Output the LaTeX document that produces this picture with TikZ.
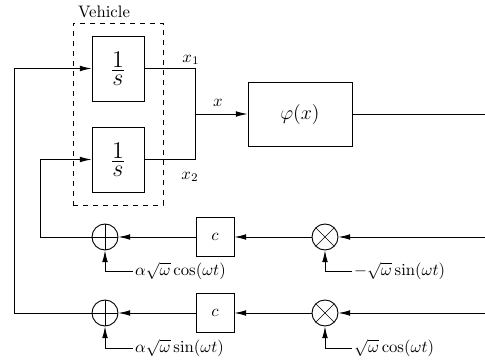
\documentclass[tikz,border=0pt]{standalone}
\usetikzlibrary{arrows.meta}
\begin{document}
\begin{tikzpicture}[x=0.6pt,y=-0.6pt,
  line width=0.55pt,
  arr/.style={-{Latex[length=7pt,width=3.4pt]}},
  blk/.style={draw,rectangle,inner sep=0pt},
  sumc/.style={circle,draw,minimum size=15.6pt,inner sep=0pt,
    path picture={\draw[line width=0.4pt] (path picture bounding box.north) -- (path picture bounding box.south)
      (path picture bounding box.west) -- (path picture bounding box.east);}},
  multc/.style={circle,draw,minimum size=15.6pt,inner sep=0pt,
    path picture={\draw[line width=0.4pt] (path picture bounding box.north west) -- (path picture bounding box.south east)
      (path picture bounding box.south west) -- (path picture bounding box.north east);}},
  lbl/.style={inner sep=1pt}]
\useasboundingbox (0,0) rectangle (485,363);
% vehicle
\node[draw,dashed,line width=0.5pt,minimum width=54pt,minimum height=109.2pt,inner sep=0pt] (veh) at (118,114) {};
\node[lbl] (vl) at (104,12) {Vehicle};
\node[blk,minimum width=31.2pt,minimum height=39pt] (v1) at (118,68.5) {\Large$\frac{\textstyle 1}{\textstyle s}$};
\node[blk,minimum width=31.2pt,minimum height=39pt] (v2) at (118,159.5) {\Large$\frac{\textstyle 1}{\textstyle s}$};
\node[blk,minimum width=62.4pt,minimum height=38.4pt] (phi) at (300,114) {\large$\varphi(x)$};
\coordinate (j) at (195,114);
\draw (v1.east) -| (j);
\draw (v2.east) -| (j);
\draw[arr] (j) -- (phi.west);
\node[lbl] (lx1) at (191,60) {$x_1$};
\node[lbl] (lx2) at (190,177) {$x_2$};
\node[lbl] (lx) at (218,103) {$x$};
\coordinate (out) at (485,114);
\draw (phi.east) -- (out);
% row 1
\coordinate (in1) at (485,237);
\node[multc] (m1) at (325,237) {};
\node[blk,minimum width=22.8pt,minimum height=23.4pt] (c1) at (215,237) {$c$};
\node[sumc] (s1) at (105,237) {};
\coordinate (k1) at (40,237);
\draw[arr] (in1) -- (m1);
\draw[arr] (m1) -- (c1);
\draw[arr] (c1) -- (s1);
\draw[arr] (s1) -- (k1) |- (v2.west);
\node[lbl,anchor=west] (a1) at (133,271) {$\alpha\sqrt{\omega}\cos(\omega t)$};
\node[lbl,anchor=west] (b1) at (352,271) {$-\sqrt{\omega}\sin(\omega t)$};
\draw[arr] (a1.west) -| (s1.south);
\draw[arr] (b1.west) -| (m1.south);
% row 2
\coordinate (in2) at (485,313);
\node[multc] (m2) at (325,313) {};
\node[blk,minimum width=22.8pt,minimum height=23.4pt] (c2) at (215,313) {$c$};
\node[sumc] (s2) at (105,313) {};
\coordinate (k2) at (14,313);
\draw[arr] (in2) -- (m2);
\draw[arr] (m2) -- (c2);
\draw[arr] (c2) -- (s2);
\draw[arr] (s2) -- (k2) |- (v1.west);
\node[lbl,anchor=west] (a2) at (133,348) {$\alpha\sqrt{\omega}\sin(\omega t)$};
\node[lbl,anchor=west] (b2) at (352,348) {$\sqrt{\omega}\cos(\omega t)$};
\draw[arr] (a2.west) -| (s2.south);
\draw[arr] (b2.west) -| (m2.south);
\end{tikzpicture}
\end{document}
